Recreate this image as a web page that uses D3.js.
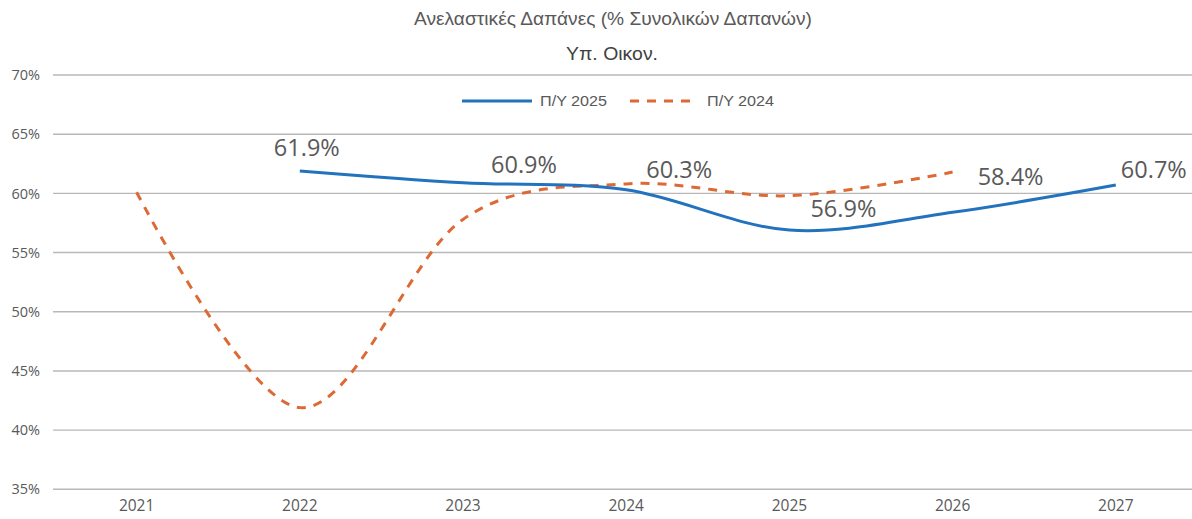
<!DOCTYPE html>
<html>
<head>
<meta charset="utf-8">
<script src="https://cdn.jsdelivr.net/npm/d3@7"></script>
<style>
  html, body { margin: 0; padding: 0; background: #ffffff; }
  svg { display: block; }
</style>
</head>
<body>
<svg id="chart" width="1192" height="519"></svg>
<script>
// Budget years and the two forecast series (share of total spending, %)
const years = ["2021", "2022", "2023", "2024", "2025", "2026", "2027"];
const budget2025 = [null, 61.9, 60.9, 60.3, 56.9, 58.4, 60.7];
const budget2024 = [60.1, 41.9, 57.8, 60.8, 59.8, 61.8, null];
const seriesNames = ["Π/Υ 2025", "Π/Υ 2024"];
const yTicks = [35, 40, 45, 50, 55, 60, 65, 70];
const titleText = "Ανελαστικές Δαπάνες (% Συνολικών Δαπανών)";
const subtitleText = "Υπ. Οικον.";

// Nudges for the value labels of the 2025 series (pixels from each point)
const labelShift = [null, [7, -15], [61, -10], [53, -12], [54, -13], [58, -27], [38, -7]];

const W = 1192, H = 519;
const svg = d3.select("#chart");
const textColor = "#595959";
const blue = "#2272bd";
const orange = "#dd6a35";

const x = d3.scaleBand().domain(years).range([55, 1197.4]);
const y = d3.scaleLinear().domain([35, 70]).range([489.3, 75]);
const cx = d => x(d) + x.bandwidth() / 2;

// Horizontal gridlines
svg.append("g")
  .selectAll("line")
  .data(yTicks)
  .join("line")
  .attr("x1", 53).attr("x2", W)
  .attr("y1", d => y(d)).attr("y2", d => y(d))
  .attr("stroke", "#b8b8b8")
  .attr("stroke-width", 1.4);

// Y axis labels
const yAxis = d3.axisLeft(y).tickValues(yTicks).tickSize(0).tickPadding(0)
  .tickFormat(d => d + "%");
svg.append("g")
  .attr("transform", "translate(40,0)")
  .call(yAxis)
  .call(g => g.select(".domain").remove())
  .call(g => g.selectAll("text")
    .attr("fill", textColor)
    .attr("font-family", "'Open Sans', sans-serif")
    .attr("font-size", 14.5));

// X axis labels
const xAxis = d3.axisBottom(x).tickSize(0).tickPadding(0);
svg.append("g")
  .attr("transform", "translate(0,500)")
  .call(xAxis)
  .call(g => g.select(".domain").remove())
  .call(g => g.selectAll("text")
    .attr("fill", textColor)
    .attr("font-family", "'Open Sans', sans-serif")
    .attr("font-size", 15.5));

// Smoothed lines
const line = d3.line()
  .defined(d => d.v != null)
  .x(d => cx(d.year))
  .y(d => y(d.v))
  .curve(d3.curveCatmullRom.alpha(0));

const rows25 = years.map((yr, i) => ({ year: yr, v: budget2025[i] }));
const rows24 = years.map((yr, i) => ({ year: yr, v: budget2024[i] }));

svg.append("path")
  .datum(rows24)
  .attr("d", line)
  .attr("fill", "none")
  .attr("stroke", orange)
  .attr("stroke-width", 3)
  .attr("stroke-dasharray", "9,8");

svg.append("path")
  .datum(rows25)
  .attr("d", line)
  .attr("fill", "none")
  .attr("stroke", blue)
  .attr("stroke-width", 3);

// Value labels for the 2025 series
svg.append("g")
  .selectAll("text")
  .data(rows25.map((r, i) => ({ ...r, s: labelShift[i] })).filter(r => r.v != null))
  .join("text")
  .attr("x", d => cx(d.year) + d.s[0])
  .attr("y", d => y(d.v) + d.s[1])
  .attr("text-anchor", "middle")
  .attr("fill", textColor)
  .attr("font-family", "'Open Sans', sans-serif")
  .attr("font-size", 23.5)
  .text(d => d.v.toFixed(1) + "%");

// Titles
svg.append("text")
  .attr("x", 613).attr("y", 25)
  .attr("text-anchor", "middle")
  .attr("fill", textColor)
  .attr("font-family", "'Liberation Sans', Arial, sans-serif")
  .attr("font-size", 18)
  .attr("textLength", 398)
  .attr("lengthAdjust", "spacingAndGlyphs")
  .text(titleText);

svg.append("text")
  .attr("x", 612).attr("y", 60)
  .attr("text-anchor", "middle")
  .attr("fill", "#404040")
  .attr("font-family", "'Liberation Sans', Arial, sans-serif")
  .attr("font-size", 19)
  .attr("textLength", 92)
  .attr("lengthAdjust", "spacingAndGlyphs")
  .text(subtitleText);

// Legend
const legend = svg.append("g").attr("transform", "translate(0,101)");
const legendItems = [
  { name: seriesNames[0], color: blue, dash: null, x0: 462, x1: 532, tx: 540 },
  { name: seriesNames[1], color: orange, dash: "9,8", x0: 630, x1: 698, tx: 707 }
];
legendItems.forEach(it => {
  legend.append("line")
    .attr("x1", it.x0).attr("x2", it.x1)
    .attr("y1", 0).attr("y2", 0)
    .attr("stroke", it.color)
    .attr("stroke-width", 3)
    .attr("stroke-dasharray", it.dash);
  legend.append("text")
    .attr("x", it.tx).attr("y", 0)
    .attr("dy", "0.35em")
    .attr("fill", textColor)
    .attr("font-family", "'Liberation Sans', Arial, sans-serif")
    .attr("font-size", 15)
    .attr("textLength", 67)
    .attr("lengthAdjust", "spacingAndGlyphs")
    .text(it.name);
});
</script>
</body>
</html>
